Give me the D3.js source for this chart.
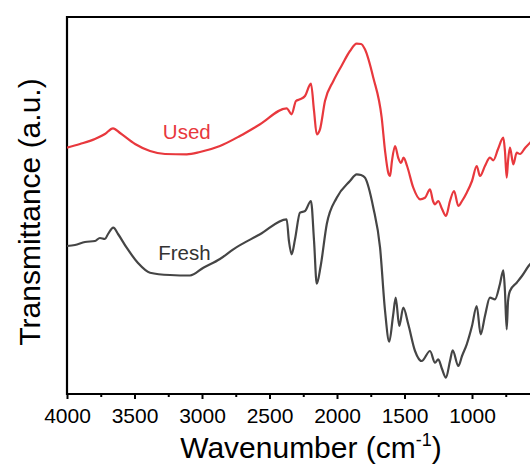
<!DOCTYPE html>
<html>
<head>
<meta charset="utf-8">
<script src="https://cdn.jsdelivr.net/npm/d3@7/dist/d3.min.js"></script>
<style>
  html, body { margin: 0; padding: 0; background: #fff; }
  svg { display: block; font-family: Arial, "Liberation Sans", sans-serif; }
</style>
</head>
<body>
<svg id="chart" width="530" height="471"></svg>
<script>
// Wavenumber (cm-1) and transmittance (a.u.)
const usedWavenumber = [4000,3904,3793,3719,3659,3607,3496,3385,3274,3113,3015,2867,2719,2570,2373,2336,2304,2274,2237,2193,2170,2150,2126,2089,2027,1963,1904,1854,1822,1793,1731,1669,1644,1620,1607,1593,1570,1546,1526,1507,1481,1435,1385,1348,1311,1289,1274,1250,1222,1193,1163,1133,1101,1074,1039,1000,965,941,904,867,842,807,768,756,743,733,719,694,669,644,607,570,496];
const usedValues = [246.3,250,255,260,265.7,261,250,243,240,239.7,242,248,258,269.7,285.7,279.7,293,294.7,298,310.3,283,259.7,264.7,293,313,329,343,350.3,350,344.7,316.3,276.3,243,221,218,233,248,236,231,236.3,228,206.3,194.7,196.3,204.7,193,189.7,193,185,178,193,203,188,193,201.3,213,228,218,228,236.3,233.7,245,256.3,243,216.3,233,246.3,229.7,241.3,240,246,251.3,257];

const freshWavenumber = [4000,3941,3867,3793,3756,3719,3696,3657,3622,3558,3474,3385,3237,3089,2990,2867,2768,2570,2373,2356,2336,2311,2274,2237,2193,2170,2150,2121,2076,2002,1904,1854,1822,1793,1731,1681,1644,1613,1585,1565,1539,1509,1472,1422,1373,1311,1274,1250,1222,1193,1163,1143,1101,1074,1039,1000,965,936,904,867,830,793,768,756,743,733,719,669,630,570,496];
const freshValues = [148,149,152,153,156,155,160,166.3,160,146.3,131,121.3,119,118.5,126.3,135,144.7,159.7,174.7,153,139.7,154.7,181.3,183,193,153,110.3,128,169.7,196.3,213,219.7,219,216.3,186.3,146.3,83,52.3,78,96.3,68,86.3,69.7,43,33,43,31.3,34.7,25,16.3,33,43.7,28,38,49.7,68,88,59.7,78,96.3,94.7,110,123.7,103,64.7,93,103,111.3,118,129.7,135];

const seriesNames = ["Used", "Fresh"];
const xTickValues = [4000, 3500, 3000, 2500, 2000, 1500, 1000];
const xMinorTickValues = [3750, 3250, 2750, 2250, 1750, 1250, 750];
const xDomain = [4000, 400];
const yDomain = [0, 377];

const svg = d3.select("#chart");
const mLeft = 67, mTop = 17, mBottom = 394;
const x = d3.scaleLinear().domain(xDomain).range([mLeft, mLeft + 3600 * 0.135]);
const y = d3.scaleLinear().domain(yDomain).range([mBottom, mTop]);

const plotW = 530 - mLeft + 40;

svg.append("defs").append("clipPath").attr("id", "clip")
  .append("rect").attr("x", mLeft).attr("y", mTop).attr("width", plotW).attr("height", mBottom - mTop);

// frame: top border
svg.append("line").attr("x1", mLeft).attr("x2", 560).attr("y1", mTop).attr("y2", mTop)
  .attr("stroke", "#000").attr("stroke-width", 2.2);

// left axis line (no ticks)
svg.append("line").attr("x1", mLeft).attr("x2", mLeft).attr("y1", mTop - 1).attr("y2", mBottom + 1)
  .attr("stroke", "#000").attr("stroke-width", 2.2);

// bottom axis
const xAxis = d3.axisBottom(x).tickValues(xTickValues).tickSize(5).tickSizeOuter(0).tickPadding(9)
  .tickFormat(d3.format("d"));
const gx = svg.append("g").attr("transform", `translate(0,${mBottom})`).call(xAxis);
gx.select(".domain").attr("stroke-width", 2.2).attr("d", `M${mLeft},0H560`);
gx.selectAll(".tick line").attr("stroke-width", 2);
gx.selectAll(".tick text").attr("font-size", 21).attr("font-family", "Arial, 'Liberation Sans', sans-serif").attr("fill", "#000");

const xMinor = d3.axisBottom(x).tickValues(xMinorTickValues).tickSize(3).tickFormat("");
const gm = svg.append("g").attr("transform", `translate(0,${mBottom})`).call(xMinor);
gm.select(".domain").remove();
gm.selectAll(".tick line").attr("stroke-width", 2);

// lines
const line = d3.line().x(d => x(d[0])).y(d => y(d[1])).curve(d3.curveMonotoneX);
const used = usedWavenumber.map((w, i) => [w, usedValues[i]]);
const fresh = freshWavenumber.map((w, i) => [w, freshValues[i]]);

const gl = svg.append("g").attr("clip-path", "url(#clip)");
gl.append("path").datum(fresh).attr("d", line).attr("fill", "none")
  .attr("stroke", "#454545").attr("stroke-width", 2.2).attr("stroke-linejoin", "round");
gl.append("path").datum(used).attr("d", line).attr("fill", "none")
  .attr("stroke", "#e8383d").attr("stroke-width", 2.2).attr("stroke-linejoin", "round");

// series labels
svg.append("text").attr("x", x(3290)).attr("y", y(255)).text(seriesNames[0])
  .attr("font-size", 20.5).attr("fill", "#e8383d");
svg.append("text").attr("x", x(3325)).attr("y", y(134)).text(seriesNames[1])
  .attr("font-size", 20.5).attr("fill", "#333");

// axis titles
const xt = svg.append("text").attr("x", 311).attr("y", 458).attr("text-anchor", "middle")
  .attr("font-size", 30).attr("fill", "#000");
xt.append("tspan").text("Wavenumber (cm");
xt.append("tspan").text("-1").attr("font-size", 18).attr("dy", -12);
xt.append("tspan").text(")").attr("dy", 12);

svg.append("text").attr("transform", "translate(40,212) rotate(-90)").attr("text-anchor", "middle")
  .attr("font-size", 30).attr("fill", "#000").text("Transmittance (a.u.)");
</script>
</body>
</html>
